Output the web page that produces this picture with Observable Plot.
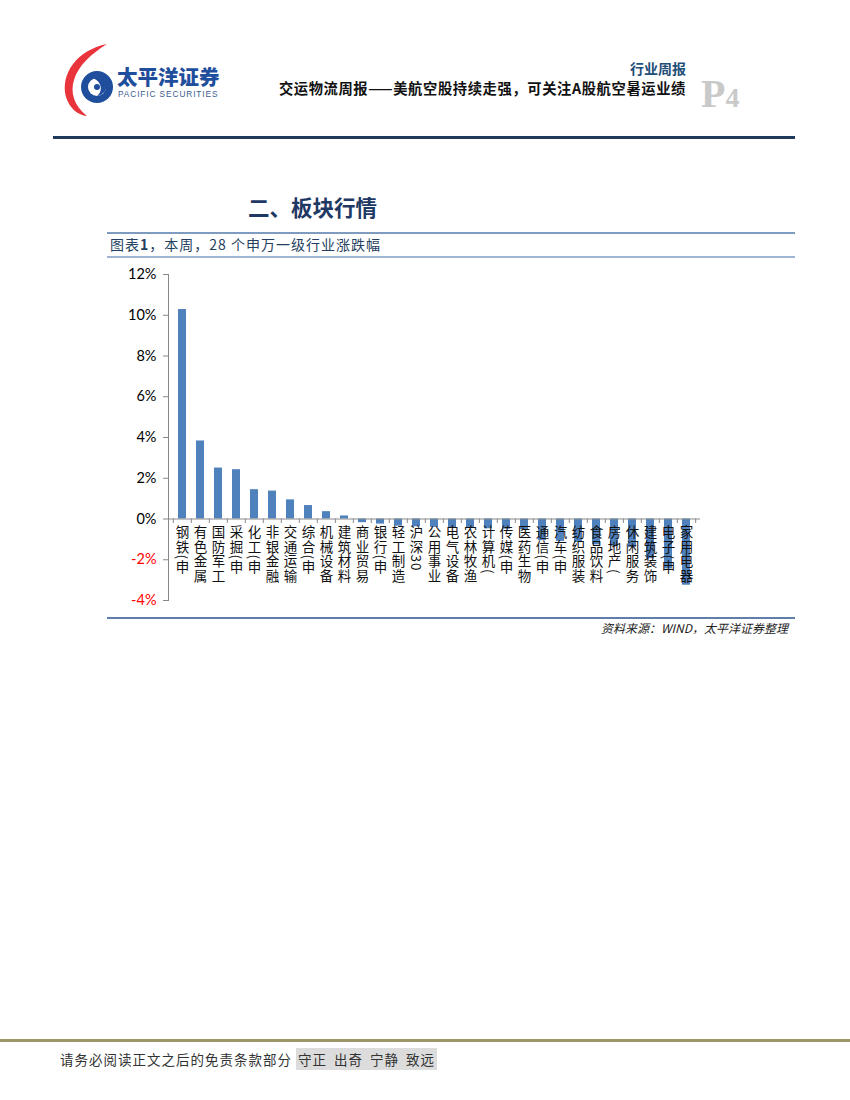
<!DOCTYPE html>
<html><head><meta charset="utf-8">
<script src="https://cdn.jsdelivr.net/npm/d3@7"></script>
<script src="https://cdn.jsdelivr.net/npm/@observablehq/plot@0.6"></script>
<style>
body{margin:0;background:#fff;}
#page{position:relative;width:850px;height:1100px;overflow:hidden;font-family:"Noto Sans CJK SC",sans-serif;background:#fff;}
.abs{position:absolute;white-space:nowrap;}
</style></head><body><div id="page">
<svg class="abs" style="left:55px;top:40px" width="180" height="80" viewBox="0 0 180 80">
  <path d="M52,4 C22,10 5,34 11,57 C15,69 23,75 32,76 C19,66 15,52 19,40 C23,26 36,14 52,4 Z" fill="#e8343a"/>
  <circle cx="42" cy="47" r="16" fill="#1f4e9c"/>
  <circle cx="42" cy="47" r="9" fill="#fff"/>
  <path d="M37,38 C46,40 49,51 42,56 C51,55 55,44 48,38 Z" fill="#1f4e9c"/>
  <circle cx="42" cy="47" r="3" fill="#1f4e9c"/>
  <text x="62" y="45" font-family="Noto Sans CJK SC" font-weight="900" font-size="20.5" fill="#1f4e9c">太平洋证券</text>
  <text x="63" y="57" font-family="Liberation Sans" font-size="8.3" letter-spacing="0.9" fill="#3b5c92">PACIFIC SECURITIES</text>
</svg>
<div class="abs" style="right:164px;top:58px;font-size:14px;font-weight:700;color:#1f4e79;">行业周报</div>
<div class="abs" style="right:164px;top:77px;font-size:14.3px;letter-spacing:0.6px;font-weight:700;color:#111;">交运物流周报——美航空股持续走强，可关注A股航空暑运业绩</div>
<div class="abs" style="left:701px;top:70px;font-family:'Liberation Serif',serif;font-weight:700;color:#c9c9c9;"><span style="font-size:40px;">P</span><span style="font-size:28px;">4</span></div>
<div class="abs" style="left:53px;top:136px;width:742px;height:3px;background:#1f3a5a;"></div>
<div class="abs" style="left:248px;top:191px;font-size:21.5px;font-weight:700;color:#1f3864;">二、板块行情</div>
<div class="abs" style="left:107px;top:232px;width:688px;height:1.5px;background:#7f9cc0;"></div>
<div class="abs" style="left:110px;top:234px;font-size:14px;letter-spacing:1px;color:#243f60;">图表<b>1</b>，本周，28 个申万一级行业涨跌幅</div>
<div class="abs" style="left:107px;top:256px;width:688px;height:1.5px;background:#9fb6d3;"></div>
<div id="chart" class="abs" style="left:100px;top:260px;"></div>
<div class="abs" style="left:107px;top:617px;width:688px;height:1.5px;background:#5f7fa8;"></div>
<div class="abs" style="left:601px;top:619px;font-size:12px;font-style:italic;color:#222;">资料来源：WIND，太平洋证券整理</div>
<div class="abs" style="left:0px;top:1039px;width:850px;height:3px;background:#9e9668;"></div>
<div class="abs" style="left:60px;top:1049px;font-size:13.5px;color:#333;letter-spacing:1px;">请务必阅读正文之后的免责条款部分 <span style="background:#dcdcdc;padding:1px 2px;word-spacing:3px;">守正 出奇 宁静 致远</span></div>
</div>
<script>
const categories = ["钢铁(申","有色金属","国防军工","采掘(申","化工(申","非银金融","交通运输","综合(申","机械设备","建筑材料","商业贸易","银行(申","轻工制造","沪深30","公用事业","电气设备","农林牧渔","计算机(","传媒(申","医药生物","通信(申","汽车(申","纺织服装","食品饮料","房地产(","休闲服务","建筑装饰","电子(申","家用电器"];
const values = [10.28,3.83,2.50,2.42,1.44,1.37,0.94,0.66,0.36,0.15,-0.18,-0.25,-0.35,-0.38,-0.41,-0.43,-0.46,-0.48,-0.50,-0.52,-1.06,-1.10,-1.16,-1.27,-1.34,-1.40,-1.95,-2.45,-3.25];
const yTicks = [-4,-2,0,2,4,6,8,10,12];
const yDomain = [-4, 12];

const data = categories.map((name, i) => ({name, value: values[i]}));

const W = 620, ML = 68, MR = 20;
const pIn = 0.55, pOut = 0.27;
const step = (W - ML - MR) / (categories.length - pIn + 2 * pOut);

const chart = Plot.plot({
  width: W, height: 360,
  marginLeft: ML, marginRight: MR, marginTop: 14, marginBottom: 20,
  style: {background: "transparent", color: "#888", overflow: "visible", fontFamily: "Lato"},
  x: {domain: categories, paddingInner: pIn, paddingOuter: pOut, axis: null},
  y: {domain: yDomain, ticks: yTicks, tickSize: 5, tickFormat: () => "", line: true, label: null},
  marks: [
    Plot.barY(data, {x: "name", y: "value", fill: "#4f81bd"}),
    Plot.ruleY([0], {stroke: "#888"}),
    Plot.ruleX(categories, {x: d => d, y1: 0, y2: -0.22, dx: -step / 2, stroke: "#888"}),
    Plot.ruleX(categories.slice(-1), {x: d => d, y1: 0, y2: -0.22, dx: step / 2, stroke: "#888"}),
    Plot.text(yTicks, {y: d => d, frameAnchor: "left", text: d => d + "%", textAnchor: "end", dx: -12, fill: d => d < 0 ? "#ff0000" : "#000000", fontSize: 14.5, fontFamily: "Lato"}),
    Plot.text(categories, {x: d => d, y: 0, text: d => d, textAnchor: "start", dy: 6, fill: "#111", fontSize: 13.5, fontFamily: "Noto Sans CJK SC"})
  ]
});
document.getElementById("chart").appendChild(chart);
const catSet = new Set(categories);
d3.select(chart).selectAll("text").each(function() {
  if (catSet.has(this.textContent)) {
    this.removeAttribute("y");
    this.removeAttribute("dy");
    this.style.writingMode = "vertical-rl";
    this.style.textOrientation = "mixed";
    this.style.letterSpacing = "1.2px";
  }
});
</script>
</body></html>
